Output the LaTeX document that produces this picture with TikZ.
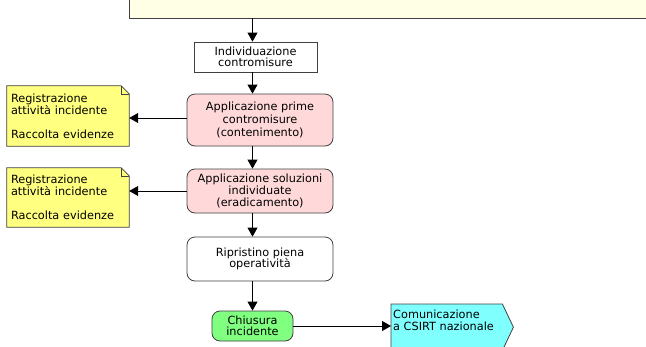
\documentclass[tikz,border=0pt]{standalone}
\usepackage{fontspec}
\setmainfont{DejaVu Sans}
\usetikzlibrary{arrows.meta,backgrounds}
\definecolor{bord}{HTML}{404040}
\definecolor{topfill}{HTML}{FFFFE6}
\definecolor{pinkfill}{HTML}{FFD9D9}
\definecolor{notefill}{HTML}{FFFF80}
\definecolor{greenfill}{HTML}{80FF80}
\definecolor{cyanfill}{HTML}{80FFFF}
\begin{document}
\begin{tikzpicture}[x=1pt,y=-1pt,
  txt/.style={font=\fontsize{11.3}{12}\selectfont},
  box/.style={txt, draw=bord, line width=0.8pt, align=center, inner sep=0pt},
  rbox/.style={box, rounded corners=8pt},
  notebox/.style={txt, align=left, inner sep=0pt, text width=114pt},
  conn/.style={line width=0.8pt, draw=black, -{Triangle[length=9pt,width=10pt]}}]
\useasboundingbox (0,0) rectangle (646,346);
\begin{scope}
\clip (0,0) rectangle (646,346);
\coordinate (sp) at (252.5,0);
% top box (partially visible)
\node[draw=bord, fill=topfill, line width=0.8pt, minimum width=551pt, minimum height=38pt, inner sep=0pt] (top) at (404.5,-1) {};
% flow boxes
\node[box, fill=white, minimum width=123pt, minimum height=30pt, font=\fontsize{11.3}{11}\selectfont] (ind) at (255.5,57) {Individuazione\\contromisure};
\node[rbox, fill=pinkfill, minimum width=146pt, minimum height=52pt, font=\fontsize{11.3}{13}\selectfont] (app1) at (260,120) {Applicazione prime\\contromisure\\(contenimento)};
\node[rbox, fill=pinkfill, minimum width=146pt, minimum height=44pt, font=\fontsize{11.3}{12.3}\selectfont] (app2) at (260,191) {Applicazione soluzioni\\individuate\\(eradicamento)};
\node[rbox, fill=white, minimum width=146pt, minimum height=44pt, font=\fontsize{11.3}{11.5}\selectfont] (rip) at (260,259) {Ripristino piena\\operatività};
\node[rbox, fill=greenfill, minimum width=81pt, minimum height=30pt, font=\fontsize{11.3}{10.5}\selectfont] (chi) at (252.5,326) {Chiusura\\incidente};
% notes
\node[notebox, minimum width=122pt, minimum height=60pt] (n1) at (68,116) {Registrazione\\attività incidente\\[12pt]Raccolta evidenze};
\node[notebox, minimum width=122pt, minimum height=59pt] (n2) at (68,197.5) {Registrazione\\attività incidente\\[12pt]Raccolta evidenze};
% signal shape
\node[minimum width=111pt, minimum height=46pt, inner sep=0pt, anchor=north west] (com) at (391,304) {};
\node[txt, align=left, inner sep=0pt, anchor=north west, font=\fontsize{11.3}{12}\selectfont] (comt) at ([xshift=2pt,yshift=-6pt]com.north west) {Comunicazione\\a CSIRT nazionale};
\begin{scope}[on background layer]
  \foreach \n in {n1,n2}{
    \filldraw[fill=notefill, draw=bord, line width=0.8pt, line join=miter]
      (\n.north west) -- ([xshift=-8pt]\n.north east) -- ([yshift=-8pt]\n.north east)
      -- (\n.south east) -- (\n.south west) -- cycle;
    \draw[bord, line width=0.6pt] ([xshift=-8pt]\n.north east) -- ([xshift=-8pt,yshift=-8pt]\n.north east) -- ([yshift=-8pt]\n.north east);
  }
  \filldraw[fill=cyanfill, draw=bord, line width=0.8pt]
    (com.north west) -- (com.north east) -- ([xshift=11pt]com.east) -- (com.south east) -- (com.south west) -- cycle;
\end{scope}
% connectors
\draw[conn] (top.south -| sp) -- (ind.north -| sp);
\draw[conn] (ind.south -| sp) -- (app1.north -| sp);
\draw[conn] (app1.south -| sp) -- (app2.north -| sp);
\draw[conn] (app2.south -| sp) -- (rip.north -| sp);
\draw[conn] (rip.south -| sp) -- (chi.north -| sp);
\draw[conn] (app1.west |- 0,118) -- (n1.east |- 0,118);
\draw[conn] (app2.west |- 0,191) -- (n2.east |- 0,191);
\draw[conn] (chi.east) -- (com.west |- chi.east);
\end{scope}
\end{tikzpicture}
\end{document}
